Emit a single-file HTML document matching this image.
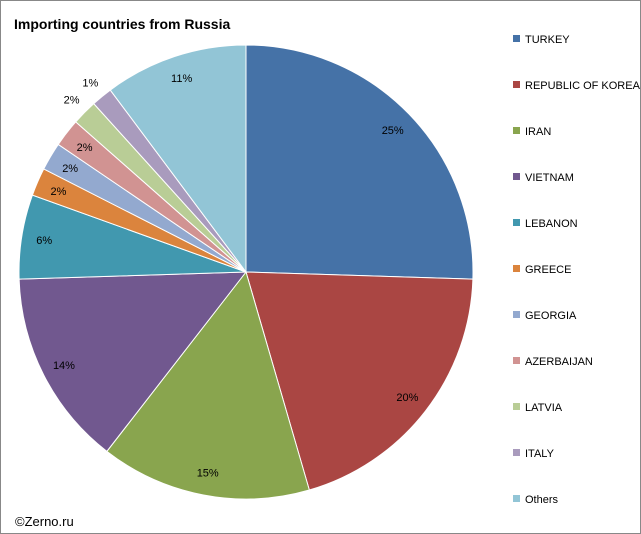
<!DOCTYPE html>
<html><head><meta charset="utf-8"><style>
body{margin:0;background:#fff}
svg{display:block;font-family:"Liberation Sans",Arial,sans-serif}
</style></head><body>
<svg id="chart" width="641" height="534">
<rect x="0.5" y="0.5" width="640" height="533" fill="#fff" stroke="#888"/>
<text x="14" y="29" font-size="14" font-weight="bold" fill="#000">Importing countries from Russia</text>
<text x="15" y="526" font-size="13" fill="#000">©Zerno.ru</text>
<g id="slices"></g><g id="labels"></g><g id="legend"></g>
</svg>
<script>
const categories=["TURKEY","REPUBLIC OF KOREA","IRAN","VIETNAM","LEBANON","GREECE","GEORGIA","AZERBAIJAN","LATVIA","ITALY","Others"];
const values=[25.5,20,15,14,6,2,2,2,1.8,1.5,10.2];
const valueLabels=["25%","20%","15%","14%","6%","2%","2%","2%","2%","1%","11%"];
const colors=["#4572A7","#AA4643","#89A54E","#71588F","#4198AF","#DB843D","#93A9CF","#D19392","#B9CD96","#A99BBD","#92C5D6"];
const NS="http://www.w3.org/2000/svg";
const cx=246,cy=272,r=227;
const total=values.reduce((a,b)=>a+b,0);
const pt=(a,rr)=>[cx+rr*Math.sin(a),cy-rr*Math.cos(a)];
let cum=0;
const sg=document.getElementById('slices'),lg=document.getElementById('labels'),leg=document.getElementById('legend');
values.forEach((v,i)=>{
  const a0=cum/total*2*Math.PI; cum+=v; const a1=cum/total*2*Math.PI;
  const p0=pt(a0,r),p1=pt(a1,r);
  const p=document.createElementNS(NS,'path');
  p.setAttribute('d',`M${cx},${cy}L${p0[0]},${p0[1]}A${r},${r} 0 ${a1-a0>Math.PI?1:0} 1 ${p1[0]},${p1[1]}Z`);
  p.setAttribute('fill',colors[i]);p.setAttribute('stroke','#fff');p.setAttribute('stroke-width','1');
  
  
  sg.appendChild(p);
  const am=(a0+a1)/2, rr=(i==8||i==9)?1.08*r:0.9*r;
  const lp=pt(am,rr);
  const t=document.createElementNS(NS,'text');
  t.setAttribute('x',lp[0]);t.setAttribute('y',lp[1]+4);t.setAttribute('font-size','11');t.setAttribute('text-anchor','middle');
  t.textContent=valueLabels[i];
  
  
  lg.appendChild(t);
  const y=39+46*i;
  const s=document.createElementNS(NS,'rect');
  s.setAttribute('x',513);s.setAttribute('y',y-4);s.setAttribute('width',7);s.setAttribute('height',7);s.setAttribute('fill',colors[i]);
  
  
  leg.appendChild(s);
  const lt=document.createElementNS(NS,'text');
  lt.setAttribute('x',525);lt.setAttribute('y',y+4);lt.setAttribute('font-size','11');lt.textContent=categories[i];
  
  
  leg.appendChild(lt);
});
</script>
</body></html>
